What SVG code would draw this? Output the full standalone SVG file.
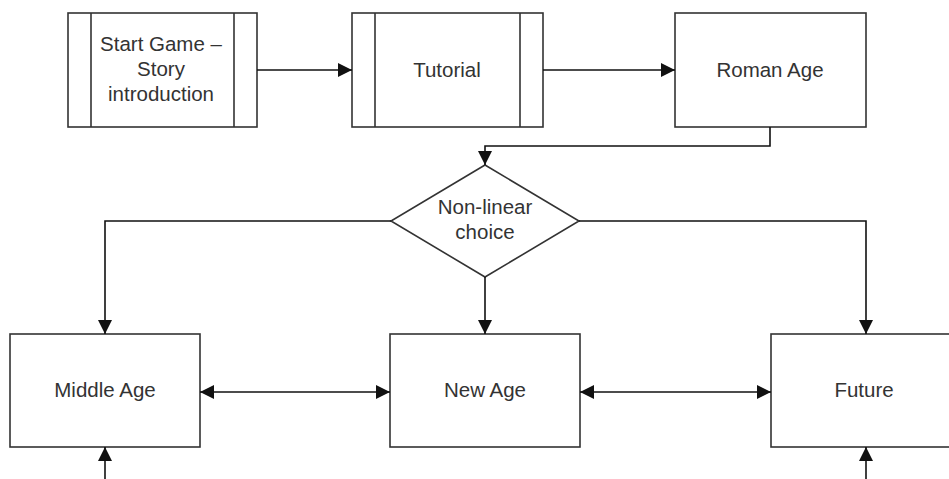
<svg xmlns="http://www.w3.org/2000/svg" width="949" height="479" viewBox="0 0 949 479">
<style>
.box{fill:#fff;stroke:#333;stroke-width:1.6}
.in{stroke:#333;stroke-width:1.6;fill:none}
.t{font-family:"Liberation Sans",Arial,sans-serif;font-size:20.5px;fill:#333;text-anchor:middle}
.c{stroke:#111;stroke-width:1.6;fill:none}
</style>
<defs>
<marker id="a" viewBox="0 0 10 10" refX="10" refY="5" markerWidth="14" markerHeight="14" markerUnits="userSpaceOnUse" orient="auto-start-reverse">
<path d="M0,0 L10,5 L0,10 z" fill="#111"/>
</marker>
</defs>
<rect width="949" height="479" fill="#fff"/>
<g id="start">
<rect class="box" x="68" y="13" width="189" height="114"/>
<line class="in" x1="91" y1="13" x2="91" y2="127"/>
<line class="in" x1="234" y1="13" x2="234" y2="127"/>
<text class="t" x="161" y="51">Start Game –</text>
<text class="t" x="161" y="76">Story</text>
<text class="t" x="161" y="101">introduction</text>
</g>
<g id="tutorial">
<rect class="box" x="352" y="13" width="191" height="114"/>
<line class="in" x1="375" y1="13" x2="375" y2="127"/>
<line class="in" x1="520" y1="13" x2="520" y2="127"/>
<text class="t" x="447" y="77">Tutorial</text>
</g>
<g id="roman">
<rect class="box" x="675" y="13" width="191" height="114"/>
<text class="t" x="770" y="77">Roman Age</text>
</g>
<g id="choice">
<polygon class="box" points="485,165 579,221 485,277 391,221"/>
<text class="t" x="485" y="214">Non-linear</text>
<text class="t" x="485" y="239">choice</text>
</g>
<g id="middle">
<rect class="box" x="10" y="334" width="190" height="113"/>
<text class="t" x="105" y="397">Middle Age</text>
</g>
<g id="newage">
<rect class="box" x="390" y="334" width="190" height="113"/>
<text class="t" x="485" y="397">New Age</text>
</g>
<g id="future">
<rect class="box" x="771" y="334" width="190" height="113"/>
<text class="t" x="864" y="397">Future</text>
</g>
<g id="connectors">
<line class="c" x1="257" y1="70" x2="352" y2="70" marker-end="url(#a)"/>
<line class="c" x1="543" y1="70" x2="675" y2="70" marker-end="url(#a)"/>
<polyline class="c" points="770,127 770,146 485,146 485,165" marker-end="url(#a)"/>
<polyline class="c" points="391,221 105,221 105,334" marker-end="url(#a)"/>
<polyline class="c" points="579,221 866,221 866,334" marker-end="url(#a)"/>
<line class="c" x1="485" y1="277" x2="485" y2="334" marker-end="url(#a)"/>
<line class="c" x1="200" y1="392" x2="390" y2="392" marker-start="url(#a)" marker-end="url(#a)"/>
<line class="c" x1="580" y1="392" x2="771" y2="392" marker-start="url(#a)" marker-end="url(#a)"/>
<line class="c" x1="105" y1="479" x2="105" y2="447" marker-end="url(#a)"/>
<line class="c" x1="866" y1="479" x2="866" y2="447" marker-end="url(#a)"/>
</g>
</svg>
